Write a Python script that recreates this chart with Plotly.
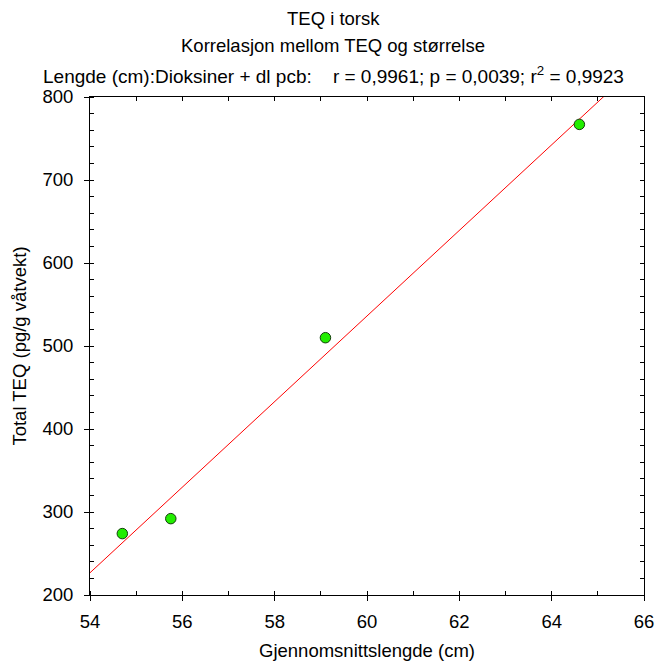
import numpy as np
import plotly.graph_objects as go

# Data
lengths = [54.7, 55.75, 59.1, 64.6]          # Gjennomsnittslengde (cm)
teq = [274, 292, 510, 767]                   # Total TEQ (pg/g våtvekt)
x_range = [54, 66]
y_range = [200, 800]

# Linear regression line through the data
slope, intercept = np.polyfit(lengths, teq, 1)
fit_x = np.array(x_range, dtype=float)
fit_y = slope * fit_x + intercept

FONT = "Liberation Sans, Arial, sans-serif"
FS = 18.5

W, H = 656, 661
L, T = 90, 97
R = W - 644
B = H - 595

fig = go.Figure()
fig.add_trace(go.Scatter(x=fit_x, y=fit_y, mode="lines",
                         line=dict(color="#ff0000", width=1), showlegend=False))
fig.add_trace(go.Scatter(x=lengths, y=teq, mode="markers",
                         marker=dict(color="#22ee00", size=10.5,
                                     line=dict(color="#143c0c", width=1)),
                         showlegend=False))
# invisible trace for mirror axes
fig.add_trace(go.Scatter(x=[None], y=[None], xaxis="x2", yaxis="y2", showlegend=False))

fig.update_layout(
    width=W, height=H,
    margin=dict(l=L, r=R, t=T, b=B),
    plot_bgcolor="white", paper_bgcolor="white",
    font=dict(family=FONT, size=FS, color="black"),
    xaxis=dict(range=x_range, dtick=2, tick0=54, ticks="outside", ticklen=5,
               tickwidth=1, tickcolor="black", showgrid=False, zeroline=False,
               showline=True, linecolor="black", linewidth=1, automargin=False,
               tickfont=dict(size=FS), ticklabelstandoff=5,
               minor=dict(dtick=1, ticks="inside", ticklen=4, tickcolor="black", showgrid=False),
               title=dict(text="Gjennomsnittslengde (cm)", font=dict(size=FS), standoff=14)),
    yaxis=dict(range=y_range, dtick=100, ticks="outside", ticklen=5,
               tickwidth=1, tickcolor="black", showgrid=False, zeroline=False,
               showline=True, linecolor="black", linewidth=1, automargin=False,
               tickfont=dict(size=FS), ticklabelstandoff=7,
               minor=dict(dtick=20, ticks="inside", ticklen=4, tickcolor="black", showgrid=False),
               title=dict(text="Total TEQ (pg/g våtvekt)", font=dict(size=FS), standoff=10)),
    xaxis2=dict(range=x_range, overlaying="x", side="top", dtick=1, ticks="inside",
                ticklen=4, tickcolor="black", showticklabels=False, showgrid=False,
                zeroline=False, showline=True, linecolor="black", linewidth=1,
                automargin=False),
    yaxis2=dict(range=y_range, overlaying="y", side="right", dtick=20, ticks="inside",
                ticklen=4, tickcolor="black", showticklabels=False, showgrid=False,
                zeroline=False, showline=True, linecolor="black", linewidth=1,
                automargin=False),
)

plot_w = W - L - R
plot_h = H - T - B
title_x = (333 - L) / plot_w
for text, ypx, fs in [("TEQ i torsk", 18, FS),
                      ("Korrelasjon mellom TEQ og størrelse", 45, FS),
                      ("Lengde (cm):Dioksiner + dl pcb:    r = 0,9961; p = 0,0039; r<sup>2</sup> = 0,9923", 75, 19)]:
    fig.add_annotation(text=text, xref="paper", yref="paper",
                       x=title_x, y=1 + (T - ypx) / plot_h, showarrow=False,
                       font=dict(size=fs), xanchor="center", yanchor="middle")

fig.write_html("out.html",
               config={"displayModeBar": False},
               post_script="document.body.style.margin='0';document.body.style.overflow='hidden';")
